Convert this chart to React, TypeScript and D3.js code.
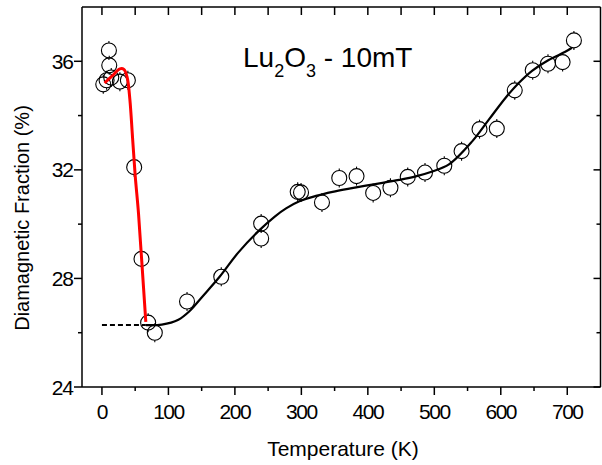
import React from "react";
import * as d3 from "d3";

const temps = [2, 7, 10.5, 11, 14, 27, 39, 48.5, 59.5, 69.5, 79.5, 128, 179.5, 239.5, 239.5, 294.5, 299.5, 331, 357, 383, 408, 434, 460, 486, 515, 541, 568, 594, 621, 648, 671, 693, 710];
const fractions = [35.15, 35.3, 36.4, 35.85, 35.4, 35.25, 35.3, 32.1, 28.72, 26.37, 26.0, 27.15, 28.06, 30.02, 29.47, 31.19, 31.17, 30.8, 31.7, 31.77, 31.15, 31.34, 31.74, 31.9, 32.15, 32.69, 33.5, 33.52, 34.93, 35.67, 35.91, 35.97, 36.77];
const errorBar = 0.35;

const fitT = [66, 90, 115, 132, 150, 177, 205, 237, 260, 277, 297, 322, 347, 372, 397, 422, 447, 472, 497, 522, 557, 582, 607, 627, 647, 672, 697, 707];
const fitV = [26.28, 26.3, 26.48, 26.8, 27.3, 28.06, 28.95, 29.78, 30.28, 30.58, 30.84, 31.04, 31.19, 31.31, 31.42, 31.52, 31.63, 31.76, 31.94, 32.2, 33.05, 33.85, 34.65, 35.2, 35.65, 36.05, 36.35, 36.5];

const redT = [4, 15, 27, 33, 38, 42, 46, 50, 55, 60, 66];
const redV = [35.2, 35.45, 35.72, 35.7, 35.4, 34.6, 33.2, 31.8, 30.4, 28.6, 26.4];

const baselineT = [0, 66];
const baselineV = [26.28, 26.28];

const xTicks = [0, 100, 200, 300, 400, 500, 600, 700];
const xMinor = [50, 150, 250, 350, 450, 550, 650, 750];
const yTicks = [24, 28, 32, 36];
const yMinor = [26, 30, 34, 38];

const FONT = "'Liberation Sans', Arial, sans-serif";

export default function App() {
  const W = 602, H = 465;
  const x = d3.scaleLinear().domain([-30, 750]).range([82, 600.5]);
  const y = d3.scaleLinear().domain([24, 38]).range([387, 7]);

  const line = d3.line<[number, number]>().x(d => x(d[0])).y(d => y(d[1])).curve(d3.curveCatmullRom.alpha(0.5));
  const fitPath = line(fitT.map((t, i) => [t, fitV[i]]) as [number, number][]) || "";
  const redPath = line(redT.map((t, i) => [t, redV[i]]) as [number, number][]) || "";
  const basePath = d3.line<[number, number]>().x(d => x(d[0])).y(d => y(d[1]))(baselineT.map((t, i) => [t, baselineV[i]]) as [number, number][]) || "";

  const r = 7.5;
  const [x0, x1] = x.range();
  const [yb, yt] = y.range();

  return (
    <svg width={W} height={H} style={{ position: "absolute", left: 0, top: 0 }} fontFamily={FONT}>
      <rect width={W} height={H} fill="#fff" />
      <g stroke="#000" strokeWidth={1.5} fill="none">
        <line x1={x0} x2={x0} y1={yt} y2={yb} />
        <line x1={x0} x2={x1} y1={yb} y2={yb} />
        <line x1={x0} x2={x1} y1={yt} y2={yt} />
        <line x1={x1} x2={x1} y1={yt} y2={yb} />
      </g>
      <g stroke="#000" strokeWidth={1.5}>
        {xTicks.map(t => (
          <g key={"xt" + t}>
            <line x1={x(t)} x2={x(t)} y1={yb} y2={yb + 8} />
            <line x1={x(t)} x2={x(t)} y1={yt} y2={yt + 8} />
          </g>
        ))}
        {xMinor.filter(t => x(t) < x1 - 1).map(t => (
          <g key={"xm" + t}>
            <line x1={x(t)} x2={x(t)} y1={yb} y2={yb + 4} />
            <line x1={x(t)} x2={x(t)} y1={yt} y2={yt + 8} />
          </g>
        ))}
        {yTicks.map(v => (
          <g key={"yt" + v}>
            <line x1={x0 - 8} x2={x0} y1={y(v)} y2={y(v)} />
            <line x1={x1 - 7} x2={x1} y1={y(v)} y2={y(v)} />
          </g>
        ))}
        {yMinor.filter(v => y(v) > yt + 1).map(v => (
          <g key={"ym" + v}>
            <line x1={x0 - 4} x2={x0} y1={y(v)} y2={y(v)} />
            <line x1={x1 - 4} x2={x1} y1={y(v)} y2={y(v)} />
          </g>
        ))}
      </g>
      <g fontSize={21} fill="#000">
        {xTicks.map(t => (
          <text key={"xl" + t} x={x(t)} y={419} textAnchor="middle" letterSpacing={-1.5}>{t}</text>
        ))}
        {yTicks.map(v => (
          <text key={"yl" + v} x={x0 - 9} y={y(v) + 7.5} textAnchor="end" letterSpacing={-1}>{v}</text>
        ))}
      </g>
      <text x={343} y={456} fontSize={21} textAnchor="middle">Temperature (K)</text>
      <text transform={`translate(29,218) rotate(-90)`} fontSize={20} textAnchor="middle">Diamagnetic Fraction (%)</text>
      <text x={243} y={67} fontSize={28}>
        Lu<tspan fontSize={18} dy={10}>2</tspan><tspan dy={-10}>O</tspan><tspan fontSize={18} dy={10}>3</tspan><tspan dy={-10}> - 10mT</tspan>
      </text>
      <path d={basePath} stroke="#000" strokeWidth={2} strokeDasharray="5,3" fill="none" />
      <g stroke="#000" strokeWidth={1.1} fill="none">
        {temps.map((t, i) => {
          const cx = x(t), cy = y(fractions[i]);
          const up = y(fractions[i] + errorBar), dn = y(fractions[i] - errorBar);
          return (
            <g key={"p" + i}>
              <circle cx={cx} cy={cy} r={r} />
              <line x1={cx} x2={cx} y1={up} y2={cy - r} />
              <line x1={cx} x2={cx} y1={cy + r} y2={dn} />
            </g>
          );
        })}
      </g>
      <path d={fitPath} stroke="#000" strokeWidth={2.2} fill="none" />
      <path d={redPath} stroke="#ff0000" strokeWidth={3} fill="none" />
    </svg>
  );
}
